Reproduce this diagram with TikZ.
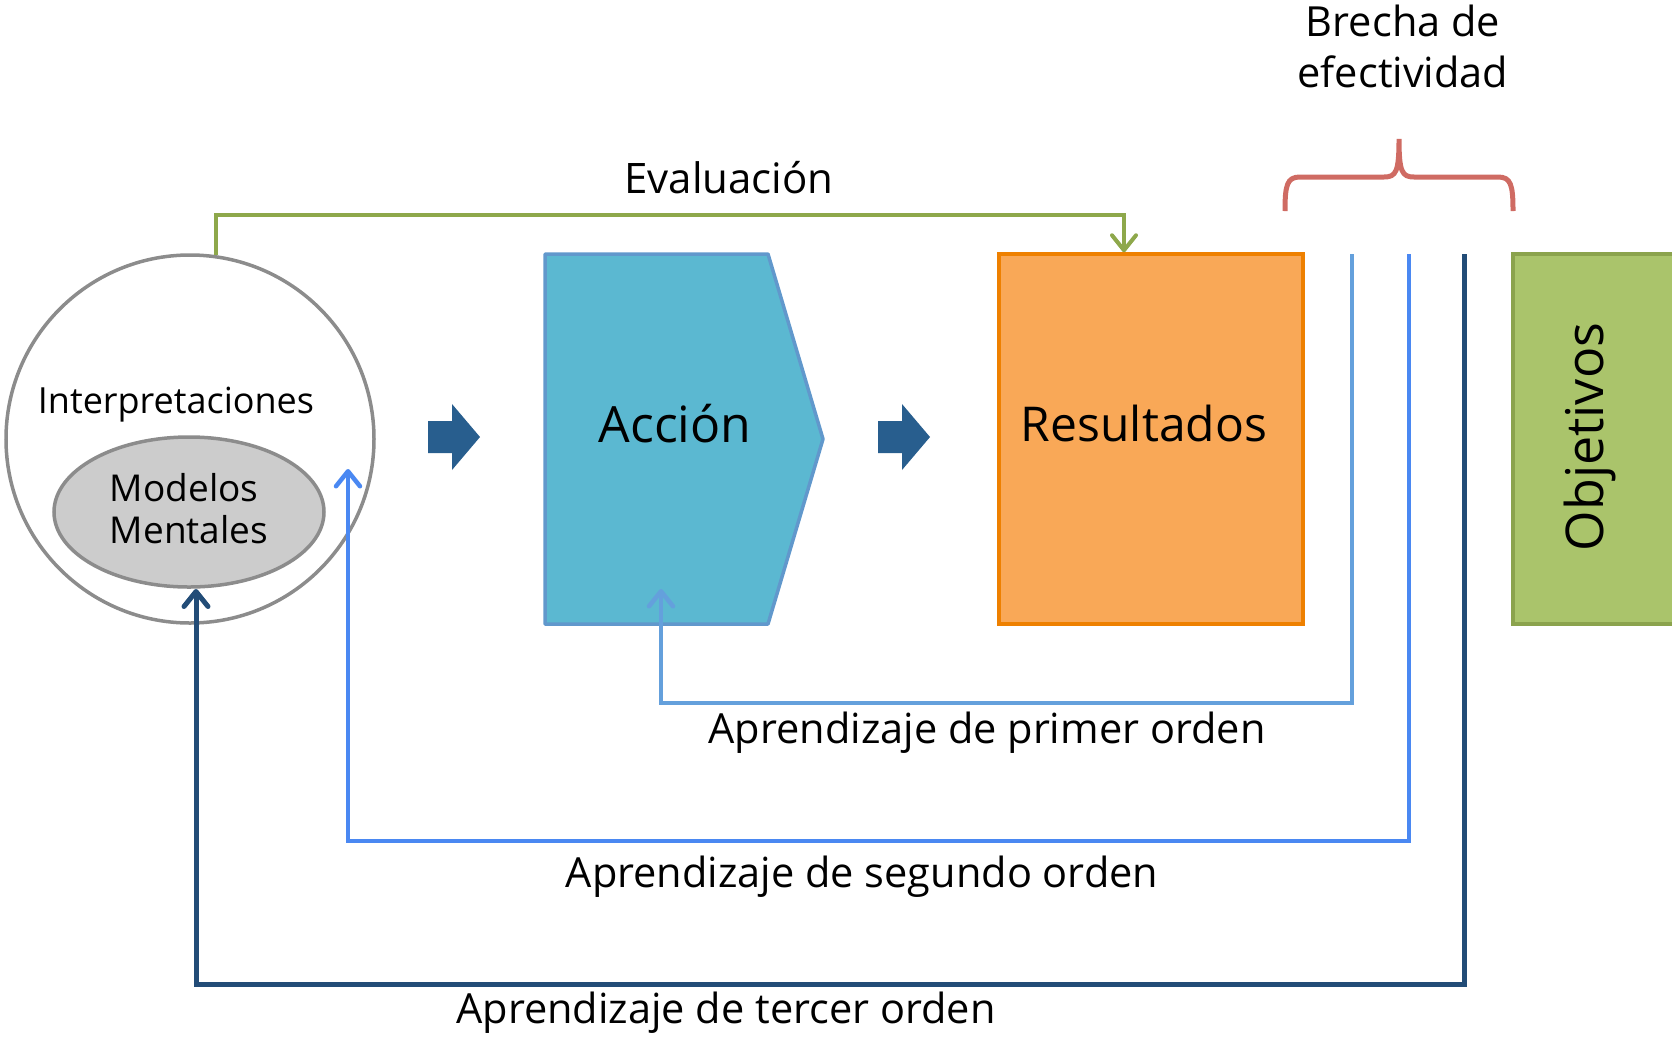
\documentclass[tikz,border=0pt]{standalone}
\usepackage{fontspec}
\setmainfont{Open Sans}
\usetikzlibrary{arrows.meta,shapes.geometric}

\definecolor{circgray}{HTML}{8C8C8C}
\definecolor{ellfill}{HTML}{CCCCCC}
\definecolor{evalgreen}{HTML}{8EA84B}
\definecolor{chevblue}{HTML}{285E8E}
\definecolor{accfill}{HTML}{5BB8D1}
\definecolor{accline}{HTML}{6198CC}
\definecolor{resfill}{HTML}{F9A857}
\definecolor{resline}{HTML}{EE8000}
\definecolor{objfill}{HTML}{AAC46B}
\definecolor{objline}{HTML}{8BA34D}
\definecolor{firstblue}{HTML}{64A0DC}
\definecolor{secondblue}{HTML}{4A88F2}
\definecolor{thirdblue}{HTML}{224C77}
\definecolor{bracered}{HTML}{CF6B63}

\newcommand{\boxfont}{\fontsize{48}{56}\selectfont}
\newcommand{\lblfont}{\fontsize{41.5}{51}\selectfont}
\newcommand{\smlfont}{\fontsize{36}{41}\selectfont}

\tikzset{
  learnline/.style={line width=4.5pt, -{Straight Barb[length=15pt,width=24pt,round]}},
  lbl/.style={inner sep=0pt, font=\lblfont}
}

\begin{document}
\begin{tikzpicture}[x=1pt, y=-1pt]
    \useasboundingbox (0,0) rectangle (1672,1037);

    % Interpretaciones
    \node[circle, draw=circgray, line width=3.5pt, minimum size=368pt, inner sep=0pt] (interp) at (190,439) {};
    \node[anchor=base, inner sep=0pt, font=\smlfont] (interptext) at (176,413) {Interpretaciones};

    % Modelos mentales
    \node[ellipse, draw=circgray, fill=ellfill, line width=3.5pt, minimum width=270pt, minimum height=150pt,
          inner sep=0pt] (modelos) at (189,512) {};
    \node[align=left, inner sep=0pt, font=\fontsize{37}{42}\selectfont] (modtext) at (189,509) {Modelos\\Mentales};

    % chevrons
    \foreach \x in {428,878}
      \fill[chevblue] (\x,421) -- (\x+24,421) -- (\x+24,404) -- (\x+52,437)
        -- (\x+24,470) -- (\x+24,453) -- (\x,453) -- cycle;

    % Accion
    \draw[accline, fill=accfill, line width=3.5pt, line join=round]
      (545,254) -- (768,254) -- (823,439) -- (768,624) -- (545,624) -- cycle;
    \node[anchor=base, inner sep=0pt, font=\fontsize{50}{58}\selectfont] (accion) at (675,442) {Acción};

    % Resultados
    \node[draw=resline, fill=resfill, line width=3.5pt, minimum width=304pt, minimum height=370pt,
          inner sep=0pt] (resultados) at (1151,439) {};
    \node[anchor=base, inner sep=0pt, font=\boxfont] (restext) at (1144,441) {Resultados};

    % Objetivos
    \node[draw=objline, fill=objfill, line width=3.5pt, minimum width=180pt, minimum height=370pt,
          inner sep=0pt] (objetivos) at (1603,439) {};
    \node[rotate=90, anchor=base, inner sep=0pt, font=\fontsize{52}{60}\selectfont] (objtext) at (1603,437) {Objetivos};

    % Evaluacion
    \coordinate (evalcorner) at (1124,215);
    \draw[evalgreen, line width=4pt, -{Straight Barb[length=15pt,width=24pt,round]}]
      (interp.82) |- (evalcorner) -- (evalcorner |- resultados.north);
    \node[inner sep=0pt, font=\fontsize{42}{50}\selectfont] (evaluacion) at (729,178) {Evaluación};

    % brecha de efectividad
    \draw[bracered, line width=5pt]
      (1285,211) .. controls (1285,185) and (1287,177) .. (1300,177) -- (1384,177)
      .. controls (1396,177) and (1399,172) .. (1399,139)
      .. controls (1399,172) and (1402,177) .. (1414,177) -- (1498,177)
      .. controls (1511,177) and (1513,185) .. (1513,211);
    \node[lbl, align=center] (brecha) at (1403,46) {Brecha de\\efectividad};

    % primer orden
    \coordinate (g1) at (1352,254);
    \coordinate (f1) at (661,703);
    \coordinate (f1tip) at (661,589);
    \draw[learnline, firstblue] (g1) |- (f1) -- (f1tip);
    \node[lbl] (primer) at (987,733) {Aprendizaje de primer orden};

    % segundo orden
    \coordinate (g2) at (1409,254);
    \coordinate (s1) at (348,841);
    \coordinate (s1tip) at (348,469);
    \draw[learnline, secondblue] (g2) |- (s1) -- (s1tip);
    \node[lbl] (segundo) at (862,877) {Aprendizaje de segundo orden};

    % tercer orden
    \coordinate (g3) at (1464,254);
    \coordinate (t1) at (196,984);
    \coordinate (t1tip) at (196,589);
    \draw[learnline, thirdblue, line width=5pt] (g3) |- (t1) -- (t1tip);
    \node[lbl] (tercer) at (726,1013) {Aprendizaje de tercer orden};

\end{tikzpicture}
\end{document}
